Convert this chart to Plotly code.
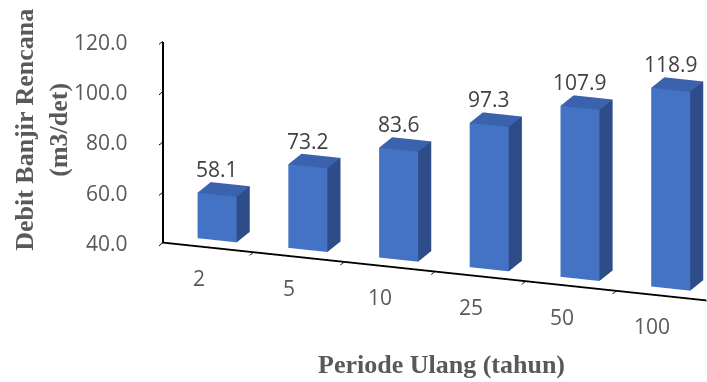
import math
import plotly.graph_objects as go

# Debit banjir rencana per periode ulang
periods = ["2", "5", "10", "25", "50", "100"]
debit = [58.1, 73.2, 83.6, 97.3, 107.9, 118.9]
z_ticks = [40, 60, 80, 100, 120]
z_ticktext = ["40.0", "60.0", "80.0", "100.0", "120.0"]

BASE = 40.0
TOP_Z = 120.0
BAR_W = 0.43
DEPTH = (0.3, 0.72)
FRONT = "#4472C4"
SIDE = "#2D4C88"
TOP = "#3A62AD"

xs, ys, zs, ii, jj, kk, fc = [], [], [], [], [], [], []
for idx, val in enumerate(debit):
    x0, x1 = idx - BAR_W / 2, idx + BAR_W / 2
    y0, y1 = DEPTH
    n = len(xs)
    corners = [(x0, y0, BASE), (x1, y0, BASE), (x1, y1, BASE), (x0, y1, BASE),
               (x0, y0, val), (x1, y0, val), (x1, y1, val), (x0, y1, val)]
    for cx, cy, cz in corners:
        xs.append(cx); ys.append(cy); zs.append(cz)
    faces = [
        ((0, 1, 5), FRONT), ((0, 5, 4), FRONT),   # front
        ((1, 2, 6), SIDE), ((1, 6, 5), SIDE),     # right
        ((4, 5, 6), TOP), ((4, 6, 7), TOP),       # top
        ((3, 2, 6), SIDE), ((3, 6, 7), SIDE),     # back
        ((0, 3, 7), SIDE), ((0, 7, 4), SIDE),     # left
        ((0, 1, 2), SIDE), ((0, 2, 3), SIDE),     # bottom
    ]
    for (a, b, c), col in faces:
        ii.append(n + a); jj.append(n + b); kk.append(n + c); fc.append(col)

fig = go.Figure()
fig.add_trace(go.Mesh3d(
    x=xs, y=ys, z=zs, i=ii, j=jj, k=kk, facecolor=fc, flatshading=True,
    lighting=dict(ambient=1, diffuse=0, specular=0, roughness=1, fresnel=0),
    hoverinfo="skip", showscale=False,
))

# heavier axis lines along the front-left corner of the floor
x_lo, x_hi = -0.5, len(periods) - 0.5
edge = 0.008
fig.add_trace(go.Scatter3d(
    x=[x_lo + edge, x_lo + edge, x_hi - edge], y=[edge, edge, edge],
    z=[TOP_Z - 0.2, BASE + 0.2, BASE + 0.2], mode="lines",
    line=dict(color="black", width=2.5), hoverinfo="skip", showlegend=False,
))

annotations = []
for idx, val in enumerate(debit):
    annotations.append(dict(x=idx, y=DEPTH[0], z=val, text=f"{val:.1f}", showarrow=False,
                            yshift=26, font=dict(family="Open Sans", size=21, color="#404040")))
for idx, p in enumerate(periods):
    annotations.append(dict(x=idx - 0.1, y=0, z=BASE, text=p, showarrow=False,
                            yshift=-31, font=dict(family="Open Sans", size=21, color="#595959")))
for v, t in zip(z_ticks, z_ticktext):
    annotations.append(dict(x=x_lo, y=0, z=v, text=t, showarrow=False, xanchor="right",
                            xshift=-32, font=dict(family="Open Sans", size=21, color="#595959")))

axis_common = dict(showbackground=False, showgrid=False, zeroline=False, showspikes=False,
                   showline=True, linecolor="black", linewidth=2, title=dict(text=""))

# orthographic camera: yawed to the right, looking slightly down
yaw, elev, dist = math.radians(20), math.radians(17), 1.6
look = dict(x=-0.29, y=-0.106, z=-0.1)
eye = dict(x=look["x"] + dist * math.sin(yaw) * math.cos(elev),
           y=look["y"] - dist * math.cos(yaw) * math.cos(elev),
           z=look["z"] + dist * math.sin(elev))

fig.update_layout(
    width=707, height=382, margin=dict(l=0, r=0, t=0, b=0),
    paper_bgcolor="white",
    showlegend=False,
    scene=dict(
        domain=dict(x=[0.12, 1.0], y=[0.08, 1.0]),
        xaxis=dict(axis_common, range=[x_lo, x_hi], tickvals=[0.5, 1.5, 2.5, 3.5, 4.5],
                   ticktext=[""] * 5, ticks="outside", ticklen=9, tickcolor="black",
                   tickwidth=2),
        yaxis=dict(axis_common, range=[0, 1], visible=False),
        zaxis=dict(axis_common, range=[BASE, TOP_Z], tickvals=z_ticks, showticklabels=False,
                   ticks="outside", ticklen=9, tickcolor="black", tickwidth=2),
        aspectmode="manual", aspectratio=dict(x=3.3, y=0.52, z=1.2),
        camera=dict(eye=eye, center=look, up=dict(x=0, y=0, z=1),
                    projection=dict(type="orthographic")),
        annotations=annotations,
    ),
    annotations=[
        dict(text="<b>Periode Ulang (tahun)</b>", x=0.625, y=0.045, xref="paper", yref="paper",
             xanchor="center", yanchor="middle", showarrow=False,
             font=dict(family="Liberation Serif", size=26, color="#595959")),
        dict(text="<b>Debit Banjir Rencana<br>(m3/det)</b>", x=0.012, y=0.66, xref="paper",
             yref="paper", xanchor="left", yanchor="middle", showarrow=False, textangle=-90,
             font=dict(family="Liberation Serif", size=26, color="#595959")),
    ],
)

fig.write_html("out.html")
